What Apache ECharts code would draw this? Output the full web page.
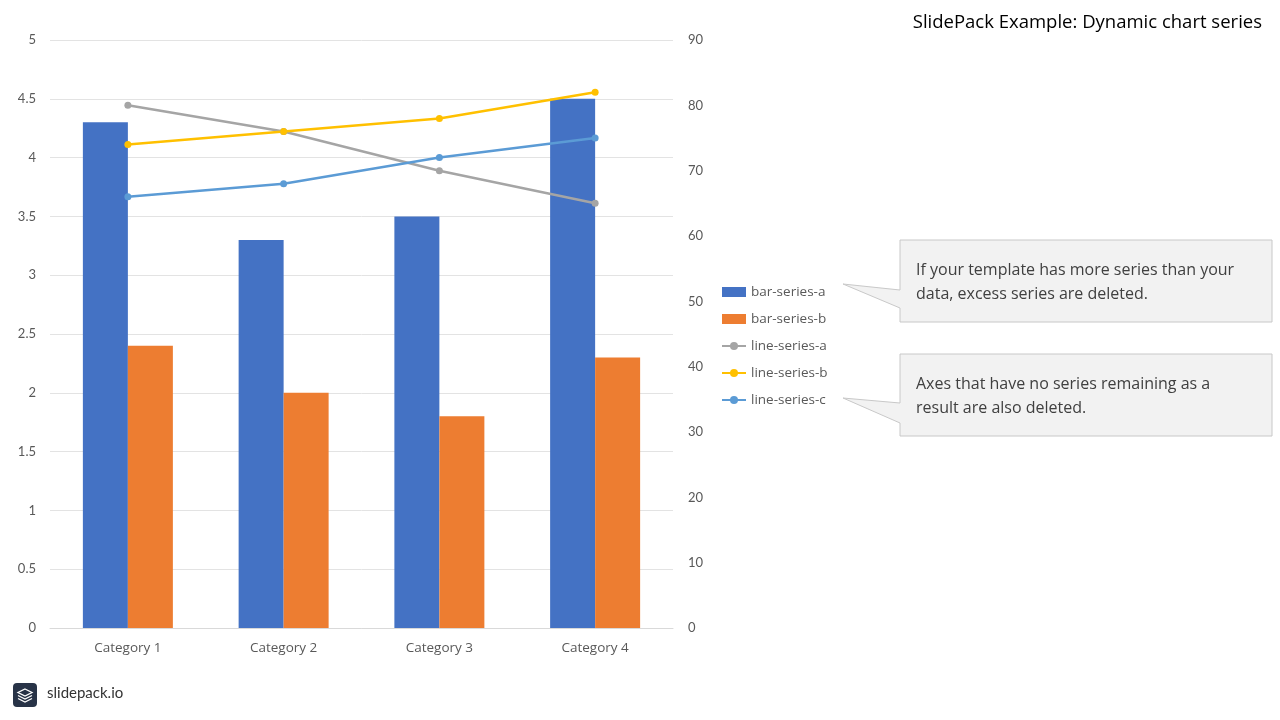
<!DOCTYPE html>
<html>
<head>
<meta charset="utf-8">
<script src="https://cdn.jsdelivr.net/npm/echarts@6/dist/echarts.min.js"></script>
<style>
  html, body { margin: 0; padding: 0; background: #fff; }
  #chart { width: 1280px; height: 720px; }
</style>
</head>
<body>
<div id="chart"></div>
<script>
// chart values
const categories = ['Category 1', 'Category 2', 'Category 3', 'Category 4'];
const barSeriesA = [4.3, 3.3, 3.5, 4.5];
const barSeriesB = [2.4, 2.0, 1.8, 2.3];
const lineSeriesA = [80, 76, 70, 65];
const lineSeriesB = [74, 76, 78, 82];
const lineSeriesC = [66, 68, 72, 75];

const font = 'Lato, "Open Sans", sans-serif';
const wideFont = '"Open Sans", Lato, sans-serif';
const axisText = { color: '#595959', fontSize: 13, fontFamily: font };

const chart = echarts.init(document.getElementById('chart'));

function lineSeries(name, data, color) {
  return {
    name: name,
    type: 'line',
    yAxisIndex: 1,
    data: data,
    symbol: 'circle',
    symbolSize: 7,
    lineStyle: { color: color, width: 2.5 },
    itemStyle: { color: color },
    z: 3,
  };
}

chart.setOption({
  animation: false,
  textStyle: { fontFamily: font },
  grid: { left: 50, right: 607, top: 40, bottom: 92 },
  legend: {
    orient: 'vertical',
    left: 716,
    top: 280,
    itemWidth: 24,
    itemHeight: 10,
    itemGap: 13,
    textStyle: { color: '#595959', fontSize: 13.5, fontFamily: wideFont },
    data: [
      { name: 'bar-series-a', icon: 'rect' },
      { name: 'bar-series-b', icon: 'rect' },
      'line-series-a',
      'line-series-b',
      'line-series-c',
    ],
  },
  xAxis: {
    type: 'category',
    data: categories,
    axisTick: { show: false },
    axisLine: { lineStyle: { color: '#d9d9d9' } },
    axisLabel: Object.assign({}, axisText, { margin: 13, fontSize: 13.5, fontFamily: wideFont }),
  },
  yAxis: [{
    type: 'value',
    min: 0,
    max: 5,
    interval: 0.5,
    axisLine: { show: false },
    axisTick: { show: false },
    splitLine: { lineStyle: { color: '#e3e3e3' } },
    axisLabel: Object.assign({ margin: 14 }, axisText),
  }, {
    type: 'value',
    min: 0,
    max: 90,
    interval: 10,
    axisLine: { show: false },
    axisTick: { show: false },
    splitLine: { show: false },
    axisLabel: Object.assign({ margin: 15 }, axisText),
  }],
  series: [{
    name: 'bar-series-a',
    type: 'bar',
    data: barSeriesA,
    barWidth: 45,
    barGap: '0%',
    itemStyle: { color: '#4472C4' },
  }, {
    name: 'bar-series-b',
    type: 'bar',
    data: barSeriesB,
    barWidth: 45,
    itemStyle: { color: '#ED7D31' },
  },
    lineSeries('line-series-a', lineSeriesA, '#A5A5A5'),
    lineSeries('line-series-b', lineSeriesB, '#FFC000'),
    lineSeries('line-series-c', lineSeriesC, '#5B9BD5'),
  ],
  graphic: [
    {
      type: 'text',
      right: 18,
      top: 13,
      style: { text: 'SlidePack Example: Dynamic chart series', fill: '#000', fontSize: 18.5, fontFamily: wideFont },
    },
    // callout 1
    {
      type: 'polygon',
      shape: { points: [[900, 240], [1272, 240], [1272, 322], [900, 322], [900, 308], [843, 284], [900, 290]] },
      style: { fill: '#f2f2f2', stroke: '#c8c8c8', lineWidth: 1 },
    },
    {
      type: 'text',
      left: 916,
      top: 258,
      style: {
        text: 'If your template has more series than your\ndata, excess series are deleted.',
        fill: '#404040', fontSize: 16, lineHeight: 24, fontFamily: wideFont,
      },
    },
    // callout 2
    {
      type: 'polygon',
      shape: { points: [[900, 354], [1272, 354], [1272, 436], [900, 436], [900, 423], [843, 398], [900, 403]] },
      style: { fill: '#f2f2f2', stroke: '#c8c8c8', lineWidth: 1 },
    },
    {
      type: 'text',
      left: 916,
      top: 372,
      style: {
        text: 'Axes that have no series remaining as a\nresult are also deleted.',
        fill: '#404040', fontSize: 16, lineHeight: 24, fontFamily: wideFont,
      },
    },
    // logo
    {
      type: 'rect',
      shape: { x: 13, y: 683, width: 24, height: 24, r: 4 },
      style: { fill: '#283347' },
    },
    {
      type: 'polygon',
      shape: { points: [[25, 689], [32, 692.5], [25, 696], [18, 692.5]] },
      style: { fill: 'none', stroke: '#fff', lineWidth: 1.3 },
    },
    {
      type: 'polyline',
      shape: { points: [[18, 695.5], [25, 699], [32, 695.5]] },
      style: { fill: 'none', stroke: '#fff', lineWidth: 1.3 },
    },
    {
      type: 'polyline',
      shape: { points: [[18, 698.5], [25, 702], [32, 698.5]] },
      style: { fill: 'none', stroke: '#fff', lineWidth: 1.3 },
    },
    {
      type: 'text',
      left: 47,
      top: 686,
      style: { text: 'slidepack.io', fill: '#333', fontSize: 15, fontFamily: font },
    },
  ],
});
</script>
</body>
</html>
